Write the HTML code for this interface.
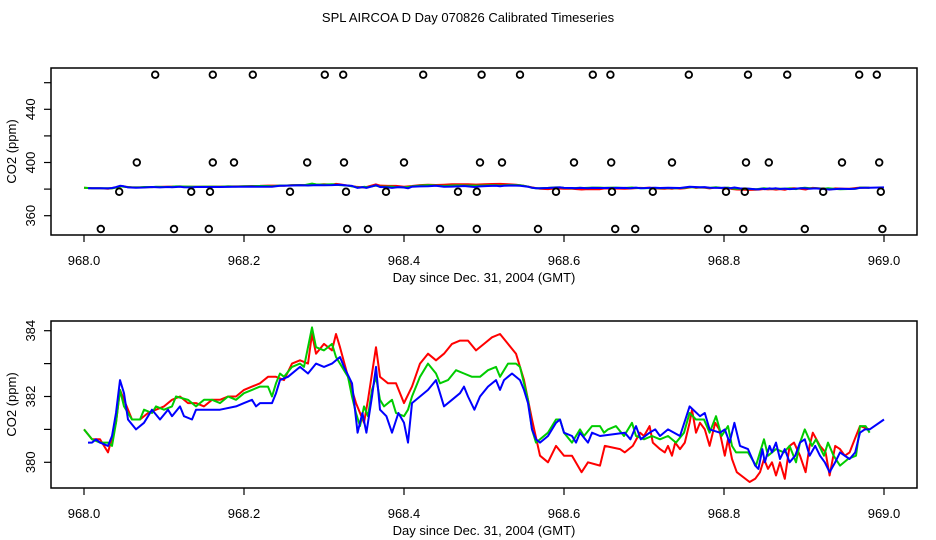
<!DOCTYPE html>
<html><head><meta charset="utf-8">
<style>
body{margin:0;background:#fff;}
svg{display:block;font-family:"Liberation Sans",sans-serif;}
</style></head>
<body>
<svg id="chart" width="936" height="540" xmlns="http://www.w3.org/2000/svg">
<text x="468" y="22" text-anchor="middle" font-size="13">SPL AIRCOA D  Day 070826  Calibrated Timeseries</text>
</svg>
<script>
// ---- data ----
const redDays=[0,0.01,0.02,0.03,0.04,0.045,0.05,0.06,0.07,0.08,0.09,0.1,0.11,0.12,0.13,0.14,0.15,0.16,0.17,0.18,0.19,0.2,0.21,0.22,0.23,0.24,0.25,0.26,0.27,0.28,0.285,0.29,0.3,0.31,0.315,0.32,0.33,0.34,0.35,0.355,0.365,0.37,0.38,0.39,0.4,0.41,0.42,0.43,0.44,0.45,0.46,0.47,0.48,0.49,0.5,0.51,0.52,0.53,0.54,0.55,0.56,0.57,0.58,0.59,0.6,0.61,0.622,0.63,0.645,0.651,0.67,0.676,0.686,0.695,0.7,0.707,0.711,0.72,0.726,0.73,0.735,0.739,0.745,0.751,0.757,0.76,0.765,0.77,0.776,0.782,0.789,0.794,0.801,0.805,0.81,0.816,0.832,0.839,0.845,0.85,0.855,0.86,0.865,0.87,0.876,0.882,0.8875,0.895,0.902,0.907,0.911,0.92,0.927,0.932,0.939,0.945,0.951,0.957,0.965,0.97,0.982];
const redVals=[381.0,380.7,380.7,380.3,381.2,382.2,381.9,381.3,381.3,381.5,381.6,381.7,381.9,382.0,381.8,381.8,381.7,381.9,381.9,382.0,382.0,382.2,382.3,382.4,382.6,382.6,382.5,383.0,383.1,383.0,383.9,383.3,383.6,383.4,383.9,383.5,382.6,381.8,381.2,381.9,383.5,382.6,382.4,382.4,381.8,382.3,383.0,383.3,383.1,383.3,383.6,383.7,383.7,383.4,383.6,383.8,383.9,383.6,383.3,382.5,381.3,380.2,380.0,380.5,380.2,380.2,379.7,380.0,379.9,380.5,380.4,380.3,380.5,380.9,380.8,381.1,380.6,380.4,380.3,380.5,380.2,380.6,380.4,380.6,381.2,381.6,380.9,381.2,381.0,380.5,381.2,381.0,380.2,380.7,380.1,379.7,379.4,379.5,379.7,380.1,379.8,380.0,379.6,380.0,379.5,380.5,380.6,380.2,379.7,380.5,380.9,380.5,380.3,379.6,380.5,380.4,380.2,380.3,380.8,381.1,381.0];
const greenDays=[0,0.01,0.02,0.03,0.035,0.04,0.045,0.05,0.06,0.07,0.075,0.085,0.09,0.1,0.11,0.115,0.13,0.14,0.15,0.16,0.17,0.18,0.19,0.2,0.21,0.22,0.23,0.235,0.24,0.245,0.25,0.26,0.27,0.275,0.285,0.29,0.3,0.31,0.315,0.32,0.33,0.335,0.34,0.345,0.35,0.355,0.36,0.365,0.37,0.375,0.385,0.39,0.4,0.405,0.41,0.42,0.43,0.44,0.445,0.455,0.465,0.475,0.485,0.495,0.505,0.515,0.52,0.53,0.54,0.545,0.55,0.555,0.56,0.565,0.57,0.58,0.59,0.595,0.6,0.61,0.615,0.62,0.625,0.635,0.645,0.65,0.655,0.665,0.675,0.685,0.69,0.7,0.71,0.72,0.73,0.74,0.75,0.757,0.765,0.775,0.782,0.79,0.797,0.805,0.81,0.815,0.83,0.84,0.85,0.855,0.865,0.875,0.882,0.89,0.895,0.901,0.91,0.915,0.925,0.93,0.937,0.945,0.955,0.965,0.97,0.977,0.982];
const greenVals=[381.0,380.7,380.6,380.6,380.5,381.2,382.2,381.7,381.3,381.3,381.6,381.5,381.7,381.6,381.7,382.0,381.9,381.7,381.9,381.9,381.8,382.0,381.9,382.1,382.2,382.3,382.3,382.0,382.4,382.7,382.6,382.9,383.0,382.9,384.1,383.5,383.4,383.6,383.2,383.0,382.6,382.0,381.5,381.1,381.7,381.4,382.2,382.6,381.9,381.7,381.9,381.5,381.4,381.6,382.0,382.6,383.0,382.7,382.4,382.5,382.8,382.7,382.6,382.6,382.8,382.9,382.6,383.0,383.0,382.9,382.4,381.9,381.0,380.6,380.7,380.9,381.3,381.3,380.9,380.6,380.8,381.0,380.8,381.1,381.1,380.9,381.0,381.1,380.8,381.2,380.8,380.7,380.8,380.7,380.8,380.6,380.9,381.5,381.3,381.3,380.9,381.4,380.8,381.1,380.5,380.3,380.3,379.9,380.7,380.2,380.4,380.3,380.5,380.0,380.6,381.0,380.5,380.7,380.2,380.6,380.2,379.9,380.1,380.2,381.1,381.1,380.9];
const blueDays=[0.005,0.01,0.015,0.02,0.03,0.035,0.04,0.045,0.05,0.055,0.065,0.075,0.085,0.095,0.105,0.11,0.12,0.125,0.135,0.14,0.155,0.17,0.19,0.2,0.21,0.215,0.22,0.235,0.24,0.245,0.255,0.27,0.28,0.29,0.3,0.31,0.32,0.325,0.335,0.342,0.348,0.353,0.36,0.365,0.37,0.378,0.385,0.393,0.4,0.405,0.41,0.42,0.43,0.44,0.445,0.45,0.46,0.47,0.475,0.48,0.488,0.495,0.505,0.515,0.52,0.525,0.535,0.545,0.55,0.555,0.56,0.565,0.57,0.58,0.59,0.595,0.6,0.61,0.615,0.62,0.63,0.635,0.645,0.676,0.683,0.69,0.696,0.707,0.714,0.72,0.73,0.745,0.757,0.77,0.776,0.782,0.795,0.801,0.807,0.813,0.82,0.83,0.839,0.843,0.848,0.851,0.857,0.86,0.865,0.87,0.876,0.882,0.889,0.895,0.901,0.907,0.914,0.92,0.926,0.932,0.939,0.945,0.957,0.964,0.97,0.976,0.982,1.0];
const blueVals=[380.6,380.6,380.7,380.6,380.5,380.8,381.5,382.5,382.1,381.3,381.0,381.2,381.6,381.3,381.6,381.4,381.7,381.4,381.3,381.6,381.6,381.6,381.7,381.8,381.9,381.7,381.8,381.8,382.1,382.5,382.6,382.9,382.7,383.0,382.9,383.0,383.2,382.9,382.4,380.9,381.5,380.9,382.0,382.9,381.6,381.4,380.9,381.5,381.2,380.6,381.8,382.0,382.2,382.5,382.1,381.7,381.9,382.1,382.3,382.0,381.6,382.0,382.3,382.5,382.2,382.5,382.7,382.5,382.2,381.8,381.0,380.7,380.6,380.8,381.2,381.3,380.9,380.8,380.6,380.9,380.6,380.9,380.8,380.9,380.7,381.1,380.7,380.9,381.0,380.8,381.0,380.8,381.7,381.4,381.5,381.0,380.9,381.0,380.6,381.2,380.5,380.4,379.9,379.8,380.4,380.0,380.5,380.3,380.6,380.1,380.4,380.0,380.2,380.6,380.7,380.2,380.5,380.2,380.0,379.7,380.0,380.3,380.1,380.3,380.9,381.0,381.0,381.3];
const outlierLevels=[350,378,400,466];
const outlierDays=[
 [0.021,0.1125,0.156,0.234,0.329,0.355,0.445,0.491,0.5675,0.664,0.689,0.78,0.824,0.901,0.998],
 [0.044,0.134,0.1575,0.2575,0.3275,0.3775,0.4675,0.491,0.59,0.66,0.711,0.8025,0.826,0.924,0.996],
 [0.066,0.161,0.1875,0.279,0.325,0.4,0.495,0.5225,0.6125,0.659,0.735,0.8275,0.856,0.9475,0.994],
 [0.089,0.161,0.211,0.301,0.324,0.424,0.497,0.545,0.636,0.658,0.756,0.83,0.879,0.969,0.991]];
const xTicks=[968.0,968.2,968.4,968.6,968.8,969.0];
const topYTicks=[360,380,400,420,440,460];
const topYLabels=[360,400,440];
const botYTicks=[380,381,382,383,384];
const botYLabels=[380,382,384];

const NS='http://www.w3.org/2000/svg';
const svg=document.getElementById('chart');
function mk(tag,attrs,parent){const e=document.createElementNS(NS,tag);for(const k in attrs)e.setAttribute(k,attrs[k]);(parent||svg).appendChild(e);return e;}
const xScale=d=>84+(d-968)*800;
const L=51,R=917;

function panel(top,bot,yS,yTicks,yLabels,prefix,days){
  const g=mk('g',{});
  
  
  const box=mk('rect',{x:L,y:top,width:R-L,height:bot-top,fill:'none',stroke:'#000','stroke-width':1.5},g);
  
  
  const xa=mk('g',{},g);
  
  
  mk('line',{x1:xScale(xTicks[0]),x2:xScale(xTicks[xTicks.length-1]),y1:bot,y2:bot,stroke:'#000'},xa);
  xTicks.forEach(t=>{const x=xScale(t);
    mk('line',{x1:x,x2:x,y1:bot,y2:bot+7,stroke:'#000','stroke-width':1.2},xa);
    const tx=mk('text',{x:x,y:bot+30,'text-anchor':'middle','font-size':13},xa);tx.textContent=t.toFixed(1);
    
    });
  const xt=mk('text',{x:484,y:bot+47,'text-anchor':'middle','font-size':13},g);
  xt.textContent='Day since Dec. 31, 2004 (GMT)';
  
  
  const ya=mk('g',{},g);
  
  
  yTicks.forEach(t=>{const y=yS(t);
    mk('line',{x1:L,x2:L-7,y1:y,y2:y,stroke:'#000','stroke-width':1.2},ya);});
  yLabels.forEach(t=>{const y=yS(t);
    const tx=mk('text',{x:0,y:0,'text-anchor':'middle','font-size':13,transform:`translate(35,${y}) rotate(-90)`},ya);tx.textContent=t;
    
    });
  const yt=mk('text',{x:0,y:0,'text-anchor':'middle','font-size':13,transform:`translate(16,${(top+bot)/2}) rotate(-90)`},g);
  yt.textContent='CO2 (ppm)';
  
  
  const series=[[redDays,redVals,'#ff0000','red'],[greenDays,greenVals,'#00cc00','green'],[blueDays,blueVals,'#0000ff','blue']];
  series.forEach(([ds,vs,c,n])=>{
    const pts=ds.map((d,i)=>xScale(968+d).toFixed(1)+','+yS(vs[i]).toFixed(1)).join(' ');
    const p=mk('polyline',{points:pts,fill:'none',stroke:c,'stroke-width':2,'stroke-linejoin':'round'},g);
    
    
  });
  return g;
}
const topY=v=>215.7-(v-360)*1.33;
const botY=v=>462.3-(v-380)*32.9;
const gTop=panel(68,235,topY,topYTicks,topYLabels,'top',xTicks);
panel(321,488,botY,botYTicks,botYLabels,'bottom',xTicks);
outlierLevels.forEach((lv,i)=>{
  outlierDays[i].forEach(d=>{
    const c=mk('circle',{cx:xScale(968+d),cy:topY(lv),r:3.3,fill:'none',stroke:'#000','stroke-width':1.8},gTop);
    
    
  });
});
</script>
</body></html>
